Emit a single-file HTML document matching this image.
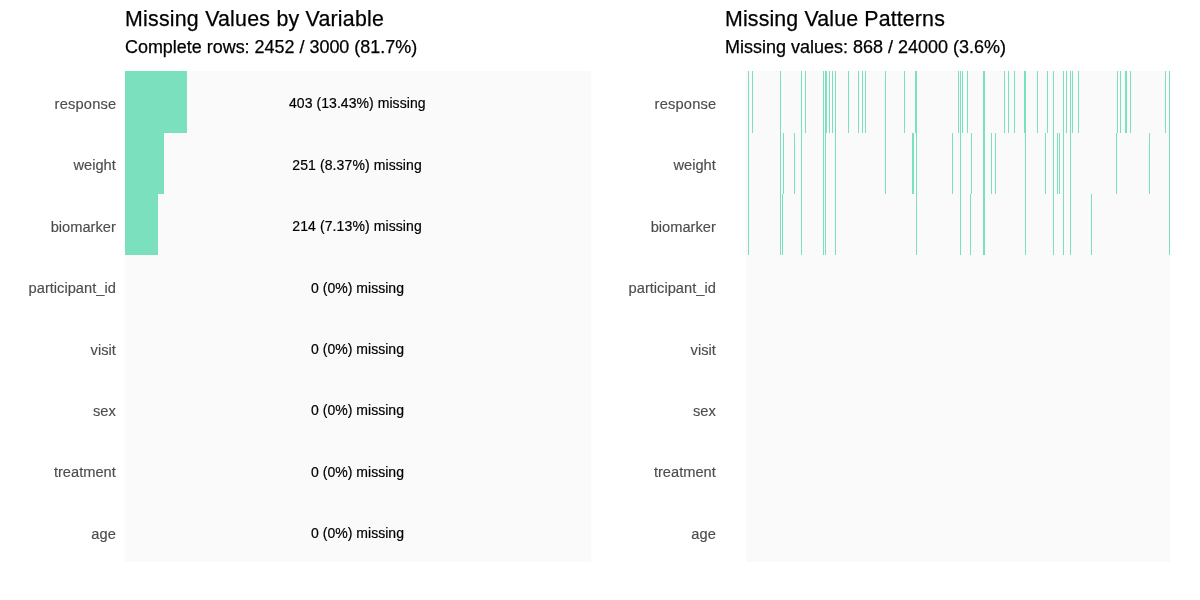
<!DOCTYPE html>
<html><head><meta charset="utf-8"><title>Missing Values</title>
<style>
html,body{margin:0;padding:0;background:#fff;}
body{width:1200px;height:600px;position:relative;overflow:hidden;font-family:"Liberation Sans",sans-serif;}
svg{position:absolute;left:0;top:0;}
.t{position:absolute;white-space:nowrap;color:#000;-webkit-text-stroke:0.25px #000;}
.title{font-size:21.33px;line-height:24px;top:7px;}
.sub{font-size:17.9px;line-height:20px;top:36.6px;}
.ax{position:absolute;white-space:nowrap;text-align:right;color:#4D4D4D;-webkit-text-stroke:0.15px #4D4D4D;font-size:14.67px;line-height:20px;height:20px;}
.bl{position:absolute;white-space:nowrap;text-align:center;color:#000;-webkit-text-stroke:0.2px #000;font-size:14px;line-height:20px;height:20px;left:125px;width:466px;}
</style></head><body>
<svg width="1200" height="600" viewBox="0 0 1200 600" shape-rendering="crispEdges">
<rect x="125" y="71" width="466" height="491" fill="#FAFAFA"/>
<rect x="746" y="71" width="424" height="491" fill="#FAFAFA"/>
<rect x="125" y="71" width="62" height="62" fill="#7AE0BE"/>
<rect x="125" y="133" width="39" height="61" fill="#7AE0BE"/>
<rect x="125" y="194" width="33" height="61" fill="#7AE0BE"/>
<rect x="748" y="71" width="1" height="62" fill="#7AE0BE"/>
<rect x="752" y="71" width="1" height="62" fill="#7AE0BE"/>
<rect x="780" y="71" width="1" height="62" fill="#7AE0BE"/>
<rect x="801" y="71" width="1" height="62" fill="#7AE0BE"/>
<rect x="805" y="71" width="1" height="62" fill="#7AE0BE"/>
<rect x="823" y="71" width="1" height="62" fill="#7AE0BE"/>
<rect x="825" y="71" width="2" height="62" fill="#7AE0BE"/>
<rect x="829" y="71" width="1" height="62" fill="#7AE0BE"/>
<rect x="832" y="71" width="1" height="62" fill="#7AE0BE"/>
<rect x="835" y="71" width="1" height="62" fill="#7AE0BE"/>
<rect x="848" y="71" width="1" height="62" fill="#7AE0BE"/>
<rect x="858" y="71" width="1" height="62" fill="#7AE0BE"/>
<rect x="862" y="71" width="1" height="62" fill="#7AE0BE"/>
<rect x="865" y="71" width="1" height="62" fill="#7AE0BE"/>
<rect x="885" y="71" width="1" height="62" fill="#7AE0BE"/>
<rect x="904" y="71" width="1" height="62" fill="#7AE0BE"/>
<rect x="915" y="71" width="2" height="62" fill="#7AE0BE"/>
<rect x="958" y="71" width="1" height="62" fill="#7AE0BE"/>
<rect x="960" y="71" width="1" height="62" fill="#7AE0BE"/>
<rect x="962" y="71" width="1" height="62" fill="#7AE0BE"/>
<rect x="967" y="71" width="1" height="62" fill="#7AE0BE"/>
<rect x="983" y="71" width="2" height="62" fill="#7AE0BE"/>
<rect x="1004" y="71" width="1" height="62" fill="#7AE0BE"/>
<rect x="1008" y="71" width="1" height="62" fill="#7AE0BE"/>
<rect x="1014" y="71" width="1" height="62" fill="#7AE0BE"/>
<rect x="1024" y="71" width="2" height="62" fill="#7AE0BE"/>
<rect x="1037" y="71" width="1" height="62" fill="#7AE0BE"/>
<rect x="1047" y="71" width="1" height="62" fill="#7AE0BE"/>
<rect x="1053" y="71" width="1" height="62" fill="#7AE0BE"/>
<rect x="1063" y="71" width="1" height="62" fill="#7AE0BE"/>
<rect x="1066" y="71" width="1" height="62" fill="#7AE0BE"/>
<rect x="1070" y="71" width="1" height="62" fill="#7AE0BE"/>
<rect x="1072" y="71" width="1" height="62" fill="#7AE0BE"/>
<rect x="1078" y="71" width="1" height="62" fill="#7AE0BE"/>
<rect x="1117" y="71" width="1" height="62" fill="#7AE0BE"/>
<rect x="1120" y="71" width="1" height="62" fill="#7AE0BE"/>
<rect x="1125" y="71" width="2" height="62" fill="#7AE0BE"/>
<rect x="1130" y="71" width="1" height="62" fill="#7AE0BE"/>
<rect x="1165" y="71" width="1" height="62" fill="#7AE0BE"/>
<rect x="1169" y="71" width="1" height="62" fill="#7AE0BE"/>
<rect x="748" y="133" width="1" height="61" fill="#7AE0BE"/>
<rect x="780" y="133" width="1" height="61" fill="#7AE0BE"/>
<rect x="783" y="133" width="1" height="61" fill="#7AE0BE"/>
<rect x="794" y="133" width="1" height="61" fill="#7AE0BE"/>
<rect x="801" y="133" width="1" height="61" fill="#7AE0BE"/>
<rect x="823" y="133" width="1" height="61" fill="#7AE0BE"/>
<rect x="825" y="133" width="1" height="61" fill="#7AE0BE"/>
<rect x="835" y="133" width="1" height="61" fill="#7AE0BE"/>
<rect x="885" y="133" width="1" height="61" fill="#7AE0BE"/>
<rect x="912" y="133" width="2" height="61" fill="#7AE0BE"/>
<rect x="916" y="133" width="1" height="61" fill="#7AE0BE"/>
<rect x="952" y="133" width="1" height="61" fill="#7AE0BE"/>
<rect x="960" y="133" width="1" height="61" fill="#7AE0BE"/>
<rect x="971" y="133" width="1" height="61" fill="#7AE0BE"/>
<rect x="983" y="133" width="2" height="61" fill="#7AE0BE"/>
<rect x="991" y="133" width="1" height="61" fill="#7AE0BE"/>
<rect x="995" y="133" width="1" height="61" fill="#7AE0BE"/>
<rect x="1025" y="133" width="1" height="61" fill="#7AE0BE"/>
<rect x="1045" y="133" width="1" height="61" fill="#7AE0BE"/>
<rect x="1053" y="133" width="1" height="61" fill="#7AE0BE"/>
<rect x="1057" y="133" width="1" height="61" fill="#7AE0BE"/>
<rect x="1059" y="133" width="1" height="61" fill="#7AE0BE"/>
<rect x="1063" y="133" width="1" height="61" fill="#7AE0BE"/>
<rect x="1070" y="133" width="1" height="61" fill="#7AE0BE"/>
<rect x="1116" y="133" width="1" height="61" fill="#7AE0BE"/>
<rect x="1149" y="133" width="1" height="61" fill="#7AE0BE"/>
<rect x="1169" y="133" width="1" height="61" fill="#7AE0BE"/>
<rect x="748" y="194" width="1" height="61" fill="#7AE0BE"/>
<rect x="780" y="194" width="1" height="61" fill="#7AE0BE"/>
<rect x="782" y="194" width="1" height="61" fill="#7AE0BE"/>
<rect x="801" y="194" width="1" height="61" fill="#7AE0BE"/>
<rect x="823" y="194" width="1" height="61" fill="#7AE0BE"/>
<rect x="825" y="194" width="1" height="61" fill="#7AE0BE"/>
<rect x="835" y="194" width="1" height="61" fill="#7AE0BE"/>
<rect x="916" y="194" width="1" height="61" fill="#7AE0BE"/>
<rect x="960" y="194" width="1" height="61" fill="#7AE0BE"/>
<rect x="970" y="194" width="1" height="61" fill="#7AE0BE"/>
<rect x="983" y="194" width="2" height="61" fill="#7AE0BE"/>
<rect x="1025" y="194" width="1" height="61" fill="#7AE0BE"/>
<rect x="1053" y="194" width="1" height="61" fill="#7AE0BE"/>
<rect x="1063" y="194" width="1" height="61" fill="#7AE0BE"/>
<rect x="1070" y="194" width="1" height="61" fill="#7AE0BE"/>
<rect x="1091" y="194" width="1" height="61" fill="#7AE0BE"/>
<rect x="1169" y="194" width="1" height="61" fill="#7AE0BE"/>
</svg>
<div class="t title" style="left:125px;letter-spacing:0.24px">Missing Values by Variable</div>
<div class="t sub" style="left:125px;font-size:17.94px">Complete rows: 2452 / 3000 (81.7%)</div>
<div class="t title" style="left:725px;letter-spacing:0.155px">Missing Value Patterns</div>
<div class="t sub" style="left:725px;font-size:17.99px">Missing values: 868 / 24000 (3.6%)</div>
<div class="ax" style="left:0;width:116.3px;top:94.0px;letter-spacing:0.175px;">response</div>
<div class="ax" style="left:600px;width:116.3px;top:94.0px;letter-spacing:0.175px;">response</div>
<div class="bl" style="left:124.3px;top:93.0px;letter-spacing:0.06px">403 (13.43%) missing</div>
<div class="ax" style="left:0;width:115.8px;top:154.5px;">weight</div>
<div class="ax" style="left:600px;width:115.8px;top:154.5px;">weight</div>
<div class="bl" style="left:124.1px;top:154.5px;letter-spacing:0.1px">251 (8.37%) missing</div>
<div class="ax" style="left:0;width:115.8px;top:216.5px;">biomarker</div>
<div class="ax" style="left:600px;width:115.8px;top:216.5px;">biomarker</div>
<div class="bl" style="left:124.1px;top:215.5px;letter-spacing:0.1px">214 (7.13%) missing</div>
<div class="ax" style="left:0;width:115.8px;top:278.0px;">participant_id</div>
<div class="ax" style="left:600px;width:115.8px;top:278.0px;">participant_id</div>
<div class="bl" style="left:124.5px;top:278.0px;letter-spacing:0.03px">0 (0%) missing</div>
<div class="ax" style="left:0;width:115.8px;top:339.5px;">visit</div>
<div class="ax" style="left:600px;width:115.8px;top:339.5px;">visit</div>
<div class="bl" style="left:124.5px;top:338.5px;letter-spacing:0.03px">0 (0%) missing</div>
<div class="ax" style="left:0;width:115.8px;top:400.5px;">sex</div>
<div class="ax" style="left:600px;width:115.8px;top:400.5px;">sex</div>
<div class="bl" style="left:124.5px;top:399.5px;letter-spacing:0.03px">0 (0%) missing</div>
<div class="ax" style="left:0;width:115.8px;top:462.0px;">treatment</div>
<div class="ax" style="left:600px;width:115.8px;top:462.0px;">treatment</div>
<div class="bl" style="left:124.5px;top:462.0px;letter-spacing:0.03px">0 (0%) missing</div>
<div class="ax" style="left:0;width:115.8px;top:523.5px;">age</div>
<div class="ax" style="left:600px;width:115.8px;top:523.5px;">age</div>
<div class="bl" style="left:124.5px;top:522.5px;letter-spacing:0.03px">0 (0%) missing</div>
</body></html>
